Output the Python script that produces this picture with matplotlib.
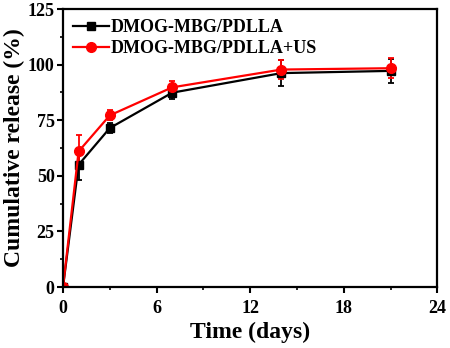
import matplotlib
matplotlib.use("Agg")
import matplotlib.pyplot as plt
from matplotlib.lines import Line2D
from matplotlib.ticker import MultipleLocator

plt.rcParams["font.family"] = ["Liberation Serif", "DejaVu Serif"]
plt.rcParams["font.weight"] = "bold"

days = [0, 1, 3, 7, 14, 21]
plain = [0, 55.0, 71.5, 87.4, 96.2, 97.2]
plain_err = [0, 7.0, 2.2, 2.8, 5.8, 5.4]
us = [0, 61.0, 77.2, 89.8, 97.8, 98.4]
us_err = [0, 7.2, 2.3, 2.8, 4.2, 4.4]
labels = ["DMOG-MBG/PDLLA", "DMOG-MBG/PDLLA+US"]

fig, ax = plt.subplots(figsize=(4.5, 3.48), dpi=100)
fig.subplots_adjust(left=0.14, right=0.972, top=0.974, bottom=0.175)

ax.errorbar(days, plain, yerr=plain_err, color="black", marker="s", markersize=6,
            linewidth=1.6, capsize=2.5, elinewidth=1.3, capthick=1.3)
ax.errorbar(days, us, yerr=us_err, color="red", marker="o", markersize=7,
            linewidth=1.6, capsize=2.5, elinewidth=1.3, capthick=1.3)

ax.set_xlim(0, 24)
ax.set_ylim(0, 125)
ax.xaxis.set_major_locator(MultipleLocator(6))
ax.xaxis.set_minor_locator(MultipleLocator(3))
ax.yaxis.set_major_locator(MultipleLocator(25))
ax.yaxis.set_minor_locator(MultipleLocator(12.5))
ax.tick_params(which="major", length=4, width=1.5, labelsize=13, pad=2)
ax.tick_params(axis="x", which="major", pad=5)
ax.tick_params(which="minor", length=2.5, width=1.2)
for s in ax.spines.values():
    s.set_linewidth(1.6)

ax.set_xlabel("Time (days)", fontsize=17, fontweight="bold", labelpad=4)
ax.set_ylabel("Cumulative release (%)", fontsize=17, fontweight="bold", labelpad=2)

handles = [
    Line2D([], [], color="black", marker="s", markersize=6, linewidth=1.6),
    Line2D([], [], color="red", marker="o", markersize=7, linewidth=1.6),
]
ax.legend(handles, labels, loc="upper left", frameon=False, handlelength=2.0,
          borderaxespad=0.15, handletextpad=0.1, labelspacing=0.25,
          prop={"weight": "bold", "size": 13})

fig.savefig("out.png", dpi=100)
